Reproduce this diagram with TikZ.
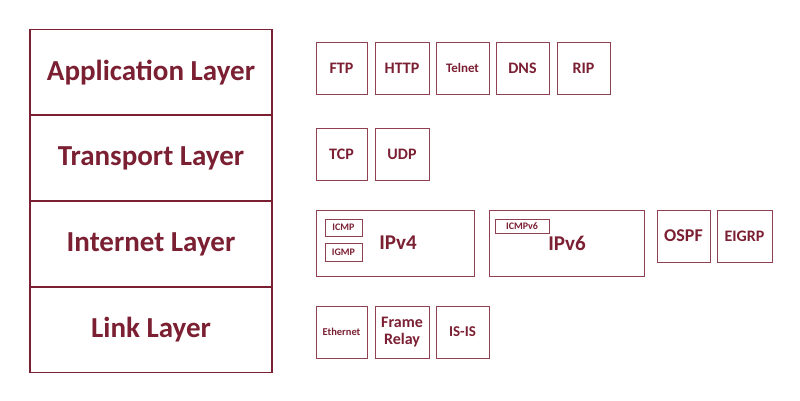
\documentclass[tikz,border=0pt]{standalone}
\usepackage{fontspec}
\setmainfont{Carlito}
\definecolor{maroon}{HTML}{7B1F32}
\tikzset{
  layer/.style={draw=maroon, line width=1.2pt, minimum width=242pt, minimum height=86pt, inner sep=0pt, text=maroon, font=\fontsize{29}{29}\bfseries\selectfont},
  proto/.style={draw=maroon!85, line width=0.8pt, inner sep=0pt, text=maroon, font=\fontsize{16}{17}\bfseries\selectfont, align=center},
  small/.style={proto, font=\fontsize{10}{11}\bfseries\selectfont}
}
\begin{document}
\begin{tikzpicture}[x=1pt,y=-1pt]
  \useasboundingbox (0,0) rectangle (800,400);
  % layers
  \node[layer] (app) at (151,72.5) {Application Layer};
  \node[layer] (trans) at (151,158) {Transport Layer};
  \node[layer] (inet) at (151,244) {Internet Layer};
  \node[layer] (link) at (151,329.5) {Link Layer};
  % application
  \node[proto, minimum width=51pt, minimum height=52pt] (ftp) at (341.5,68) {FTP};
  \node[proto, minimum width=54pt, minimum height=52pt] (http) at (402,68) {HTTP};
  \node[proto, minimum width=53pt, minimum height=52pt, font=\fontsize{13}{14}\bfseries\selectfont] (telnet) at (462.5,68) {Telnet};
  \node[proto, minimum width=53pt, minimum height=52pt] (dns) at (522.5,68) {DNS};
  \node[proto, minimum width=53pt, minimum height=52pt] (rip) at (583.5,68) {RIP};
  % transport
  \node[proto, minimum width=51pt, minimum height=52pt] (tcp) at (341.5,154) {TCP};
  \node[proto, minimum width=54pt, minimum height=52pt] (udp) at (402,154) {UDP};
  % internet
  \node[proto, minimum width=158pt, minimum height=66pt] (ipv4box) at (395,243) {};
  \node[proto, draw=none, font=\fontsize{21}{22}\bfseries\selectfont] (ipv4) at (398,243) {IPv4};
  \node[small, minimum width=37pt, minimum height=17pt] (icmp) at (343.5,227.5) {ICMP};
  \node[small, minimum width=37pt, minimum height=18pt] (igmp) at (343.5,252) {IGMP};
  \node[proto, minimum width=155pt, minimum height=66pt] (ipv6box) at (566.5,243) {};
  \node[proto, draw=none, font=\fontsize{21}{22}\bfseries\selectfont] (ipv6) at (567,243) {IPv6};
  \node[small, minimum width=54pt, minimum height=14pt] (icmpv6) at (522,226) {ICMPv6};
  \node[proto, minimum width=53pt, minimum height=52pt, font=\fontsize{18}{19}\bfseries\selectfont] (ospf) at (683.5,236) {OSPF};
  \node[proto, minimum width=55pt, minimum height=52pt] (eigrp) at (744.5,236) {EIGRP};
  % link
  \node[proto, minimum width=51pt, minimum height=52pt, font=\fontsize{10.5}{11}\bfseries\selectfont] (eth) at (341.5,332) {Ethernet};
  \node[proto, minimum width=54pt, minimum height=52pt] (frame) at (402,332) {Frame\\Relay};
  \node[proto, minimum width=53pt, minimum height=52pt, font=\fontsize{15}{16}\bfseries\selectfont] (isis) at (462.5,332) {IS-IS};
\end{tikzpicture}
\end{document}
